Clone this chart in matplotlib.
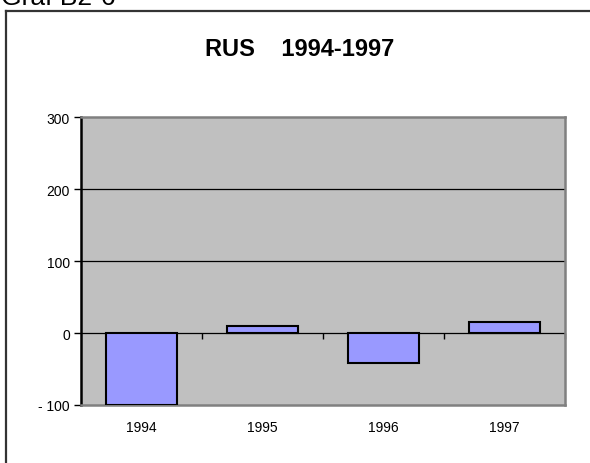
import matplotlib
matplotlib.use("Agg")
import matplotlib.pyplot as plt
import numpy as np
from matplotlib.lines import Line2D

plt.rcParams['font.family'] = ['Liberation Sans', 'DejaVu Sans']

categories = ['1994', '1995', '1996', '1997']
values = [-100, 10, -42, 15]
yticks = [-100, 0, 100, 200, 300]
ytick_labels = ['- 100', '0', '100', '200', '300']

W, H = 590, 464
fig = plt.figure(figsize=(W / 100, H / 100), dpi=100)

# outer chart border (left and top visible)
fig.add_artist(Line2D([6 / W, 6 / W], [0, 1 - 12 / H], transform=fig.transFigure,
                      color='#333333', lw=1.6))
fig.add_artist(Line2D([6 / W, 1], [1 - 12 / H, 1 - 12 / H], transform=fig.transFigure,
                      color='#333333', lw=1.6))

fig.text(1 / W, 1 - 5 / H, 'Graf B2-6', fontsize=19, ha='left', va='baseline')

ax = fig.add_axes([81 / W, 58 / H, (565 - 81) / W, (406 - 118) / H])
ax.set_facecolor('#C0C0C0')

x = np.arange(len(categories))
ax.bar(x, values, width=0.59, color='#9999FF', edgecolor='black', linewidth=1.5, zorder=3)

ax.set_xlim(-0.5, len(categories) - 0.5)
ax.set_ylim(yticks[0], yticks[-1])
ax.set_yticks(yticks)
ax.set_yticklabels(ytick_labels, fontsize=10)
ax.tick_params(axis='y', direction='out', length=5, width=1, pad=3)
ax.set_xticks(x)
ax.set_xticklabels(categories, fontsize=10)
ax.tick_params(axis='x', length=0, pad=11)

for yv in yticks[1:-1]:
    ax.axhline(yv, color='black', lw=0.9, zorder=2)

for side in ['top', 'right', 'bottom']:
    ax.spines[side].set_color('#808080')
    ax.spines[side].set_linewidth(1.8)
ax.spines['left'].set_color('black')
ax.spines['left'].set_linewidth(1.8)

# category axis at zero with boundary ticks
zero_frac = (0 - yticks[0]) / (yticks[-1] - yticks[0])
sec = ax.secondary_xaxis(zero_frac)
sec.set_xticks(np.arange(len(categories)) + 0.5)
sec.set_xticklabels([])
sec.tick_params(direction='out', length=4, width=1, color='black')
sec.spines['bottom'].set_visible(False)

fig.text(300 / W, 1 - 50 / H, 'RUS    1994-1997', fontsize=17, fontweight='bold',
         ha='center', va='center')

fig.savefig('out.png', dpi=100)
